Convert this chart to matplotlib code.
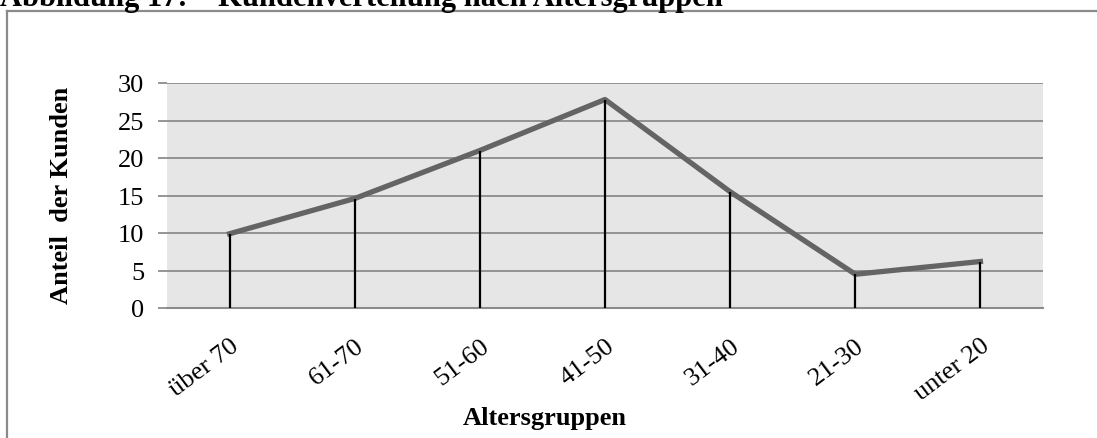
import matplotlib.pyplot as plt
from matplotlib.lines import Line2D
import numpy as np

# Data
altersgruppen = ["über 70", "61-70", "51-60", "41-50", "31-40", "21-30", "unter 20"]
anteil = [9.9, 14.6, 21.0, 27.8, 15.5, 4.5, 6.2]
y_ticks = [0, 5, 10, 15, 20, 25, 30]

plt.rcParams['font.family'] = ['Liberation Serif', 'DejaVu Serif']

fig = plt.figure(figsize=(10.97, 4.39), dpi=100)
ax = fig.add_axes([167 / 1097, 1 - 309 / 439, 876 / 1097, 225 / 439])

x = np.arange(len(altersgruppen))

ax.set_facecolor('#e6e6e6')
for yv in y_ticks:
    ax.axhline(yv, color='#8c8c8c', lw=1.3, zorder=1)

ax.plot(x, anteil, color='#646464', lw=3.8, zorder=3)
ax.vlines(x, 0, anteil, color='black', lw=1.6, zorder=4)

ax.set_xlim(-0.5, len(altersgruppen) - 0.5)
ax.set_ylim(0, 30)
ax.set_yticks(y_ticks)
ax.set_xticks(x)
ax.set_xticklabels(altersgruppen, rotation=37, ha='right', rotation_mode='anchor', fontsize=19)
ax.tick_params(axis='x', length=0, pad=19)
ax.tick_params(axis='y', length=6.5, width=1.3, color='#8c8c8c', labelsize=19, pad=10)

for s in ['top', 'right', 'left']:
    ax.spines[s].set_visible(False)
ax.spines['bottom'].set_color('#8c8c8c')
ax.spines['bottom'].set_linewidth(1.5)

# y axis label and x axis label
fig.text(62 / 1097, 1 - 195 / 439, "Anteil  der Kunden", rotation=90, fontsize=19,
         fontweight='bold', ha='center', va='center')
fig.text(545 / 1097, 1 - 425 / 439, "Altersgruppen", fontsize=19, fontweight='bold',
         ha='center', va='baseline')

# figure caption at the top (partly cut off, as in the source)
fig.text(0, 1 - 6 / 439, "Abbildung 17:    Kundenverteilung nach Altersgruppen",
         fontsize=22, fontweight='bold', ha='left', va='baseline')

# outer chart frame
fx, fy = 7 / 1097, 1 - 12 / 439
fig.add_artist(Line2D([fx, fx], [0, fy], transform=fig.transFigure, color='#8a8a8a', lw=1.6))
fig.add_artist(Line2D([fx, 1], [fy, fy], transform=fig.transFigure, color='#8a8a8a', lw=1.6))

fig.savefig("out.png", dpi=100)
